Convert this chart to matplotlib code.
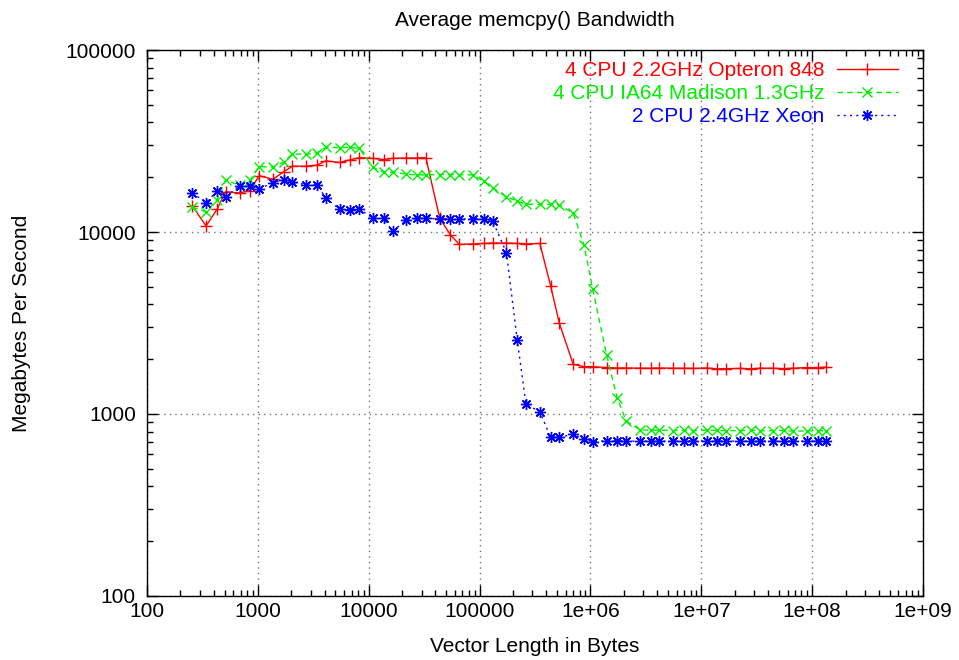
import matplotlib
matplotlib.use('Agg')
import matplotlib.pyplot as plt
from matplotlib.ticker import LogLocator, FixedLocator, FixedFormatter, NullFormatter

plt.rcParams['font.family'] = ['Liberation Sans', 'DejaVu Sans']

# Vector lengths (bytes), shared by all three machines
vec_len = [256, 341, 427, 512, 683, 853, 1024, 1365, 1707, 2048, 2731, 3413,
           4096, 5461, 6827, 8192, 10923, 13653, 16384, 21845, 27307, 32768,
           43691, 54613, 65536, 87381, 109227, 131072, 174763, 218453, 262144,
           349525, 436907, 524288, 699051, 873813, 1048576, 1398101, 1747627,
           2097152, 2796203, 3495253, 4194304, 5592405, 6990507, 8388608,
           11184811, 13981013, 16777216, 22369621, 27962027, 33554432,
           44739243, 55924053, 67108864, 89478485, 111848107, 134217728]

opteron = [13900, 10800, 13300, 16650, 16400, 16900, 20400, 19500, 21400, 23000,
           23000, 23300, 24600, 24100, 24950, 25600, 25400, 25000, 25400, 25500,
           25500, 25600,
           11900, 9640, 8550,
           8600, 8650, 8700, 8700, 8650, 8600, 8650,
           5070, 3150, 1875, 1820, 1820,
           1800, 1790, 1790, 1785, 1785, 1790, 1785, 1785, 1780, 1790, 1770,
           1775, 1780, 1770, 1785, 1785, 1775, 1785, 1800, 1800, 1810]

madison = [13700, 12900, 15000, 19300, 18100, 19300, 22900, 22700, 24200, 26900,
           26700, 27300, 29200, 29100, 29200, 28800, 22700, 21300, 21300, 20800,
           20600, 20600,
           20700, 20700, 20600, 20600, 19100, 17500, 15600, 14800, 14200, 14200,
           14200,
           14100, 12700, 8490, 4850, 2110, 1220,
           918, 817, 815, 815, 810, 815, 810, 815, 812, 810, 810, 815, 808, 810,
           812, 805, 808, 810, 810]

xeon = [16400, 14500, 16800, 15600, 17900, 17900, 17200, 18700, 19300, 18800,
        18200,
        18100, 15400, 13300, 13200, 13400, 11900, 11900, 10100, 11600, 11900,
        11900,
        11800, 11800, 11800, 11800, 11800, 11500,
        7700, 2550, 1130, 1030, 745, 745, 773, 726, 705, 713, 713,
        710, 708, 710, 710, 708, 710, 710, 708, 710, 710, 708, 710, 710, 708,
        710, 710, 708, 710, 710]

labels = ['4 CPU 2.2GHz Opteron 848', '4 CPU IA64 Madison 1.3GHz',
          '2 CPU 2.4GHz Xeon']

xticks = [1e2, 1e3, 1e4, 1e5, 1e6, 1e7, 1e8, 1e9]
xticklabels = ['100', '1000', '10000', '100000', '1e+06', '1e+07', '1e+08', '1e+09']
yticks = [1e2, 1e3, 1e4, 1e5]
yticklabels = ['100', '1000', '10000', '100000']

fs = 15

fig = plt.figure(figsize=(9.59, 6.60), dpi=100)
ax = fig.add_axes([0.1533, 0.0970, 0.8092, 0.8272])

ax.plot(vec_len, opteron, color='#ff0000', lw=1, ls='-', marker='+',
        ms=9, mew=1, label=labels[0])
ax.plot(vec_len, madison, color='#00ee00', lw=1, ls=(0, (4, 3)), marker='x',
        ms=7, mew=1, label=labels[1])
ax.plot(vec_len, xeon, color='#0000ff', lw=1, ls=(0, (1.5, 3)), marker=(8, 2, 0),
        ms=8, mew=1, label=labels[2])

ax.set_xscale('log')
ax.set_yscale('log')
ax.set_xlim(1e2, 1e9)
ax.set_ylim(1e2, 1e5)

ax.xaxis.set_major_locator(FixedLocator(xticks))
ax.xaxis.set_major_formatter(FixedFormatter(xticklabels))
ax.yaxis.set_major_locator(FixedLocator(yticks))
ax.yaxis.set_major_formatter(FixedFormatter(yticklabels))
ax.xaxis.set_minor_locator(LogLocator(base=10, subs=range(2, 10), numticks=20))
ax.yaxis.set_minor_locator(LogLocator(base=10, subs=range(2, 10), numticks=20))
ax.xaxis.set_minor_formatter(NullFormatter())
ax.yaxis.set_minor_formatter(NullFormatter())

ax.tick_params(which='both', direction='in', top=True, right=True,
               labelsize=fs, width=1)
ax.tick_params(which='major', length=8)
ax.tick_params(axis='x', which='major', pad=4)
ax.tick_params(axis='y', which='major', pad=8)
ax.tick_params(which='minor', length=4)
ax.grid(True, which='major', color='0.45', ls=(0, (1, 3)), lw=1)
for s in ax.spines.values():
    s.set_linewidth(1)

ax.set_title('Average memcpy() Bandwidth', fontsize=fs, pad=17)
ax.set_xlabel('Vector Length in Bytes', fontsize=fs, labelpad=12)
ax.set_ylabel('Megabytes Per Second', fontsize=fs, labelpad=25)

ax.legend(loc='upper right', frameon=False, markerfirst=False,
          labelcolor='linecolor', fontsize=fs, handlelength=2.9,
          handletextpad=0.6, labelspacing=0.2, borderaxespad=0,
          bbox_to_anchor=(0.978, 0.995))

fig.savefig('out.png', dpi=100)
